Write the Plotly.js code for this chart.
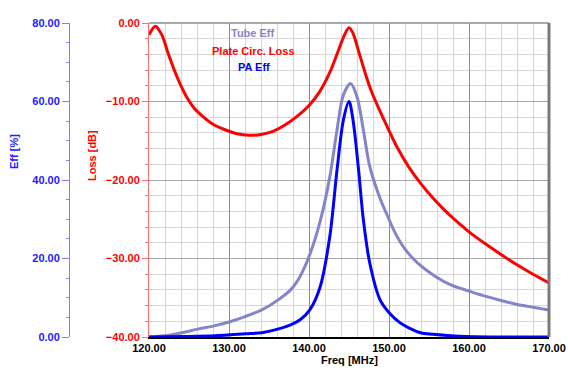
<!DOCTYPE html>
<html><head><meta charset="utf-8">
<script src="https://cdn.plot.ly/plotly-3.0.1.min.js"></script>
<style>html,body{margin:0;padding:0;background:#fff;}#chart{width:568px;height:376px;}</style>
</head><body><div id="chart"></div>
<script>
// Plate Circ. Loss [dB]
const lossFreq = [120, 120.8, 121.6, 122.4, 123.2, 124, 124.8, 125.6, 126.6, 128, 129.5, 131, 132.5, 134, 135.5, 137, 138.5, 140, 141.3, 142.6, 143.6, 144.4, 145, 145.5, 146.2, 147, 147.8, 148.9, 150, 151, 152.5, 154, 155.5, 157, 158.5, 160, 162, 164, 166, 168, 170];
const lossDb = [-1.5, -0.4, -1.5, -3.9, -6.1, -8.0, -9.6, -10.8, -11.8, -12.9, -13.6, -14.1, -14.3, -14.2, -13.8, -13.0, -11.9, -10.5, -8.8, -6.3, -3.7, -1.6, -0.6, -1.3, -3.6, -6.3, -8.7, -11.3, -13.7, -15.8, -18.4, -20.5, -22.3, -23.9, -25.3, -26.6, -28.1, -29.5, -30.8, -32.0, -33.1];
// Tube Eff [%]
const tubeFreq = [120, 122, 124.1, 126.1, 128.25, 130.1, 132, 134.1, 136.1, 137.7, 138.9, 140.1, 141.4, 142.6, 143.5, 144.3, 145.2, 146, 146.8, 147.6, 148.9, 150, 150.75, 152, 153.6, 155.75, 157.8, 160, 162, 164, 166, 168, 170];
const tubeEff = [0, 0.3, 1.1, 2.0, 2.9, 3.9, 5.2, 6.9, 9.4, 12.0, 15.5, 21.0, 29.5, 40.8, 52.7, 61.7, 64.6, 61.2, 52.7, 43.4, 35.2, 30.0, 26.6, 22.4, 18.8, 15.5, 13.2, 11.7, 10.4, 9.3, 8.3, 7.6, 6.9];
// PA Eff [%]
const paFreq = [120, 124.1, 128.25, 132, 134.1, 136.1, 137.7, 138.9, 140.1, 141.4, 142.6, 143.5, 144.3, 145, 145.5, 146.2, 146.8, 147.6, 148.9, 150.1, 151.4, 152.6, 153.9, 155.5, 159.7, 170];
const paEff = [0, 0.1, 0.3, 0.8, 1.1, 2.0, 3.1, 4.4, 6.9, 12.8, 25.6, 42.5, 55.3, 60.0, 55.3, 42.5, 29.8, 18.8, 9.4, 6.0, 3.6, 2.2, 1.1, 0.7, 0.1, 0];

const FONT = 'Liberation Sans, Arial, sans-serif';
const traces = [
  {x: lossFreq, y: lossDb, yaxis: 'y', type: 'scatter', mode: 'lines',
   line: {color: '#ff0000', width: 3, shape: 'spline', smoothing: 0.9}, name: 'Plate Circ. Loss'},
  {x: tubeFreq, y: tubeEff, yaxis: 'y2', type: 'scatter', mode: 'lines',
   line: {color: '#8484c8', width: 3, shape: 'spline', smoothing: 0.9}, name: 'Tube Eff'},
  {x: paFreq, y: paEff, yaxis: 'y2', type: 'scatter', mode: 'lines',
   line: {color: '#0000ff', width: 3, shape: 'spline', smoothing: 0.9}, name: 'PA Eff'}
];

const layout = {
  width: 568, height: 376,
  margin: {l: 69, r: 19, t: 23, b: 39, pad: 0},
  paper_bgcolor: '#ffffff', plot_bgcolor: '#ffffff',
  showlegend: false,
  font: {family: FONT, size: 11},
  xaxis: {
    domain: [80/480, 1], range: [120, 170], dtick: 10, tick0: 120,
    tickformat: '.2f', tickfont: {family: FONT, size: 11, color: '#000', weight: 'bold'},
    showgrid: true, gridcolor: '#8c8c8c', gridwidth: 1,
    minor: {dtick: 2, showgrid: true, gridcolor: '#d6d6d6', ticks: ''},
    showline: true, linecolor: '#000', linewidth: 2,
    ticks: '', zeroline: false, fixedrange: true
  },
  yaxis: {
    anchor: 'x', range: [-40, 0], dtick: 10, tick0: 0,
    tickformat: '.2f', tickfont: {family: FONT, size: 11, color: '#ff0000', weight: 'bold'},
    showgrid: true, gridcolor: '#a8a8a8', gridwidth: 1,
    minor: {dtick: 2, showgrid: true, gridcolor: '#d6d6d6', ticks: 'outside', ticklen: 3, tickcolor: '#ff7070'},
    ticks: 'outside', ticklen: 6, tickcolor: '#ff7070',
    showline: true, linecolor: '#ff7070', linewidth: 1,
    zeroline: false, fixedrange: true
  },
  yaxis2: {
    overlaying: 'y', anchor: 'free', position: 0, side: 'left',
    range: [0, 80], dtick: 20, tick0: 0,
    tickformat: '.2f', tickfont: {family: FONT, size: 11, color: '#2020ff', weight: 'bold'},
    showgrid: false,
    minor: {dtick: 5, showgrid: false, ticks: 'outside', ticklen: 3, tickcolor: '#8080ff'},
    ticks: 'outside', ticklen: 7, tickcolor: '#8080ff',
    showline: true, linecolor: '#8080ff', linewidth: 1,
    zeroline: false, fixedrange: true
  },
  shapes: [
    {type: 'line', xref: 'x domain', yref: 'y domain', x0: 0, x1: 1, y0: 1, y1: 1, line: {color: '#8c8c8c', width: 1.5}},
    {type: 'line', xref: 'x domain', yref: 'y domain', x0: 1, x1: 1, y0: 0, y1: 1, line: {color: '#7a7a7a', width: 3}}
  ],
  annotations: [
    {text: 'Tube Eff', xref: 'paper', yref: 'paper', x: (253-69)/480, y: 1-(33-23)/314, showarrow: false,
     font: {family: FONT, size: 11, color: '#8484c8', weight: 'bold'}, xanchor: 'center', yanchor: 'middle'},
    {text: 'Plate Circ. Loss', xref: 'paper', yref: 'paper', x: (253-69)/480, y: 1-(51-23)/314, showarrow: false,
     font: {family: FONT, size: 11, color: '#ff0000', weight: 'bold'}, xanchor: 'center', yanchor: 'middle'},
    {text: 'PA Eff', xref: 'paper', yref: 'paper', x: (254-69)/480, y: 1-(67-23)/314, showarrow: false,
     font: {family: FONT, size: 11, color: '#0000ff', weight: 'bold'}, xanchor: 'center', yanchor: 'middle'},
    {text: 'Eff [%]', xref: 'paper', yref: 'paper', x: (14-69)/480, y: 1-(152-23)/314, showarrow: false, textangle: -90,
     font: {family: FONT, size: 11, color: '#2020ff', weight: 'bold'}, xanchor: 'center', yanchor: 'middle'},
    {text: 'Loss [dB]', xref: 'paper', yref: 'paper', x: (92-69)/480, y: 1-(156-23)/314, showarrow: false, textangle: -90,
     font: {family: FONT, size: 11, color: '#ff0000', weight: 'bold'}, xanchor: 'center', yanchor: 'middle'},
    {text: 'Freq [MHz]', xref: 'paper', yref: 'paper', x: (349-69)/480, y: -(360-337)/314, showarrow: false,
     font: {family: FONT, size: 11, color: '#000000', weight: 'bold'}, xanchor: 'center', yanchor: 'middle'}
  ]
};

Plotly.newPlot('chart', traces, layout, {staticPlot: true, displayModeBar: false});
</script>
</body></html>
